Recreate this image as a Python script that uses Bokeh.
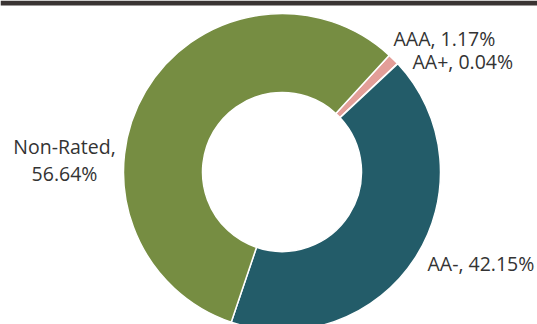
import math
from bokeh.plotting import figure
from bokeh.models import ColumnDataSource, Range1d
from bokeh.core.properties import value
from bokeh.embed import file_html
from bokeh.resources import INLINE

# Data
categories = ["AAA", "AA+", "AA-", "Non-Rated"]
shares = [1.17, 0.04, 42.15, 56.64]
colors = ["#E39E98", "#E39E98", "#235C69", "#768D42"]
label_lines = ["AAA, 1.17%", "AA+, 0.04%", "AA-, 42.15%", "Non-Rated,", "56.64%"]

W, H = 537, 324
cx, cy = 281.5, H - 171.5
r_out, r_in = 158.5, 79.5
first_angle = 42.6  # degrees clockwise from 12 o'clock

total = sum(shares)
starts, ends = [], []
acc = first_angle
for s in shares:
    a0 = acc
    a1 = acc + s / total * 360.0
    starts.append(math.radians(90 - a0))
    ends.append(math.radians(90 - a1))
    acc = a1

src = ColumnDataSource(dict(cat=categories, val=shares, start=starts, end=ends, color=colors))

p = figure(width=W, height=H, output_backend="svg", toolbar_location=None,
           x_range=Range1d(0, W), y_range=Range1d(0, H), min_border=0,
           background_fill_color="white", border_fill_color="white")
p.axis.visible = False
p.grid.visible = False
p.outline_line_color = None

# dark top band
p.quad(left=0, right=W, bottom=H - 5, top=H, fill_color="#3A3433", line_color=None)

p.annular_wedge(x=cx, y=cy, inner_radius=r_in, outer_radius=r_out,
                start_angle="start", end_angle="end", direction="clock",
                fill_color="color", line_color="white", line_width=1.5, source=src)

# labels
lx = [393, 412, 427, 64, 64]
ly = [H - 38, H - 60.5, H - 263, H - 146, H - 173]
la = ["left", "left", "left", "center", "center"]
lsrc = ColumnDataSource(dict(x=lx, y=ly, t=label_lines, a=la))
p.text(x="x", y="y", text="t", text_align="a", text_baseline="middle",
       text_font=value("Open Sans"), text_font_size="19.5px", text_color="#333333",
       source=lsrc)

html = file_html(p, INLINE)
html = html.replace("<head>", "<head><style>html,body{margin:0;padding:0;overflow:hidden;}</style>", 1)
open("out.html", "w").write(html)
